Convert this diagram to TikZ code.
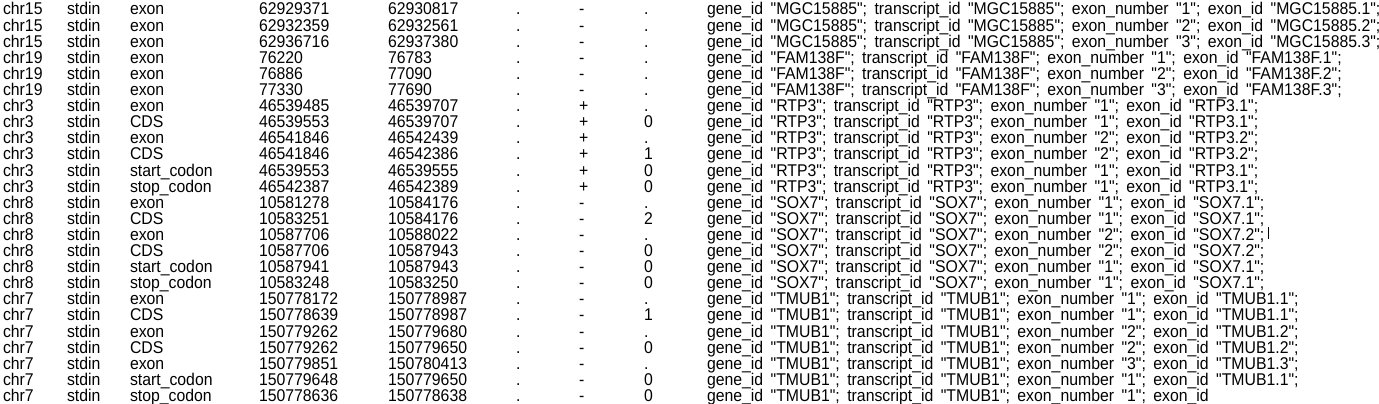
\documentclass[tikz,border=0pt]{standalone}
\usepackage{fontspec}
\newfontfamily\gtffont[FakeStretch=0.93]{Liberation Sans}
\newfontfamily\gtfattrfont[FakeStretch=0.93,WordSpace=1.3]{Liberation Sans}

\newcommand\gtfattr[3]{gene\_id "#1"; transcript\_id "#1"; exon\_number "#2"; exon\_id #3}

\begin{document}
\begin{tikzpicture}[
  x=1pt, y=-1pt,
  font=\gtffont\fontsize{17}{17}\selectfont,
  cell/.style={anchor=base west, inner sep=0pt, outer sep=0pt},
  attr/.style={cell, font=\gtfattrfont\fontsize{17}{17}\selectfont}
]
\useasboundingbox[fill=white] (0,0) rectangle (1379,404);

% one line of the GTF file per row
\foreach [count=\i] \chrom/\feat/\start/\stop/\strand/\frame/\gene/\num/\eid in {
  chr15/exon/62929371/62930817/-/./MGC15885/1/{"MGC15885.1";},
  chr15/exon/62932359/62932561/-/./MGC15885/2/{"MGC15885.2";},
  chr15/exon/62936716/62937380/-/./MGC15885/3/{"MGC15885.3";},
  chr19/exon/76220/76783/-/./FAM138F/1/{"FAM138F.1";},
  chr19/exon/76886/77090/-/./FAM138F/2/{"FAM138F.2";},
  chr19/exon/77330/77690/-/./FAM138F/3/{"FAM138F.3";},
  chr3/exon/46539485/46539707/+/./RTP3/1/{"RTP3.1";},
  chr3/CDS/46539553/46539707/+/0/RTP3/1/{"RTP3.1";},
  chr3/exon/46541846/46542439/+/./RTP3/2/{"RTP3.2";},
  chr3/CDS/46541846/46542386/+/1/RTP3/2/{"RTP3.2";},
  chr3/start\_codon/46539553/46539555/+/0/RTP3/1/{"RTP3.1";},
  chr3/stop\_codon/46542387/46542389/+/0/RTP3/1/{"RTP3.1";},
  chr8/exon/10581278/10584176/-/./SOX7/1/{"SOX7.1";},
  chr8/CDS/10583251/10584176/-/2/SOX7/1/{"SOX7.1";},
  chr8/exon/10587706/10588022/-/./SOX7/2/{"SOX7.2";},
  chr8/CDS/10587706/10587943/-/0/SOX7/2/{"SOX7.2";},
  chr8/start\_codon/10587941/10587943/-/0/SOX7/1/{"SOX7.1";},
  chr8/stop\_codon/10583248/10583250/-/0/SOX7/1/{"SOX7.1";},
  chr7/exon/150778172/150778987/-/./TMUB1/1/{"TMUB1.1";},
  chr7/CDS/150778639/150778987/-/1/TMUB1/1/{"TMUB1.1";},
  chr7/exon/150779262/150779680/-/./TMUB1/2/{"TMUB1.2";},
  chr7/CDS/150779262/150779650/-/0/TMUB1/2/{"TMUB1.2";},
  chr7/exon/150779851/150780413/-/./TMUB1/3/{"TMUB1.3";},
  chr7/start\_codon/150779648/150779650/-/0/TMUB1/1/{"TMUB1.1";},
  chr7/stop\_codon/150778636/150778638/-/0/TMUB1/1/{}%
}{
  \pgfmathsetmacro\rowy{15+16.1*(\i-1)}
  \node[cell] (chrom-\i)  at (3,\rowy)   {\chrom};
  \node[cell] (source-\i) at (67,\rowy)  {stdin};
  \node[cell] (feat-\i)   at (130,\rowy) {\feat};
  \node[cell] (start-\i)  at (259,\rowy) {\start};
  \node[cell] (stop-\i)   at (388,\rowy) {\stop};
  \node[cell] (score-\i)  at (516,\rowy) {.};
  \node[cell] (strand-\i) at (579,\rowy) {\strand};
  \node[cell] (frame-\i)  at (644,\rowy) {\frame};
  \node[attr] (attr-\i)   at (707,\rowy) {\gtfattr{\gene}{\num}{\eid}};
}

% text cursor after row 15
\draw[line width=1.3pt] ([shift={(4,-13)}]attr-15.base east) -- ([shift={(4,-1)}]attr-15.base east);

\end{tikzpicture}
\end{document}
